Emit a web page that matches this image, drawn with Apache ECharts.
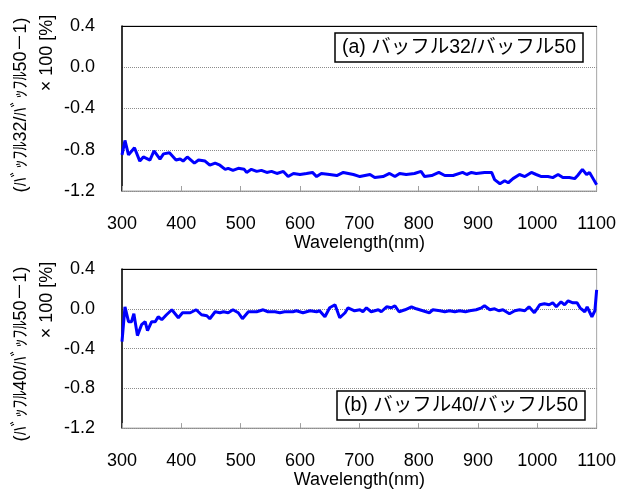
<!DOCTYPE html>
<html>
<head>
<meta charset="utf-8">
<script src="https://cdn.jsdelivr.net/npm/echarts@6/dist/echarts.min.js"></script>
<style>
html,body{margin:0;padding:0;background:#fff;}
#chart{width:619px;height:490px;}
</style>
</head>
<body>
<div id="chart"></div>
<script>
// ---- Data ----
const wavelengthA = [300,302,305,311,321,330,336,347,354,364,370,380,391,398,403,410,422,429,440,448,457,465,474,479,487,496,506,510,518,527,535,544,552,561,572,580,589,600,611,621,628,636,650,662,673,690,701,718,726,740,751,760,768,779,793,804,810,822,834,844,858,874,881,889,897,911,923,928,937,945,951,959,970,979,990,998,1007,1018,1026,1035,1043,1054,1063,1068,1076,1083,1088,1094,1100];
const ratioA = [-0.85,-0.86,-0.71,-0.85,-0.78,-0.91,-0.87,-0.90,-0.81,-0.89,-0.84,-0.83,-0.90,-0.89,-0.91,-0.87,-0.93,-0.90,-0.91,-0.95,-0.93,-0.95,-0.99,-0.98,-1.00,-0.98,-0.99,-1.02,-0.99,-1.01,-1.00,-1.02,-1.01,-1.03,-1.01,-1.06,-1.03,-1.04,-1.03,-1.02,-1.06,-1.03,-1.04,-1.05,-1.02,-1.04,-1.06,-1.04,-1.07,-1.06,-1.03,-1.06,-1.03,-1.04,-1.03,-1.01,-1.06,-1.05,-1.02,-1.05,-1.05,-1.02,-1.04,-1.02,-1.03,-1.02,-1.02,-1.09,-1.13,-1.10,-1.12,-1.08,-1.04,-1.06,-1.02,-1.04,-1.06,-1.06,-1.07,-1.04,-1.07,-1.07,-1.08,-1.05,-0.99,-1.04,-1.02,-1.08,-1.14];

const wavelengthB = [300,305,311,316,320,326,333,339,343,350,356,361,367,375,384,395,402,415,425,434,443,448,457,465,471,479,487,496,503,513,527,538,546,558,566,574,588,594,605,617,628,633,642,650,659,667,676,681,692,701,706,712,720,732,737,746,754,760,767,777,788,796,807,818,824,836,844,852,861,869,879,886,897,906,911,920,928,935,942,953,962,970,979,986,995,1004,1012,1020,1026,1032,1040,1046,1052,1060,1067,1072,1080,1084,1092,1097,1100];
const ratioB = [-0.33,0.02,-0.13,-0.13,-0.05,-0.27,-0.16,-0.13,-0.22,-0.13,-0.13,-0.08,-0.11,-0.06,-0.01,-0.09,-0.04,-0.04,-0.01,-0.06,-0.07,-0.10,-0.03,-0.04,-0.03,-0.04,-0.01,-0.04,-0.10,-0.03,-0.03,-0.01,-0.03,-0.03,-0.04,-0.03,-0.03,-0.02,-0.04,-0.02,-0.03,-0.02,-0.08,0.01,0.04,-0.09,-0.04,0.01,-0.02,-0.01,-0.03,0.01,-0.03,-0.01,-0.03,0.02,0.01,0.03,-0.03,-0.01,0.02,0.00,-0.02,-0.04,-0.01,-0.02,-0.03,-0.02,-0.03,-0.02,-0.03,-0.02,-0.01,0.01,0.03,-0.01,0.00,-0.02,-0.01,-0.05,-0.02,-0.01,-0.02,0.02,-0.04,0.04,0.05,0.04,0.06,0.02,0.07,0.04,0.08,0.06,0.06,0.01,-0.03,0.02,-0.08,-0.02,0.19];

const xTicks = [300,400,500,600,700,800,900,1000,1100];
const yTicks = [-1.2,-0.8,-0.4,0.0,0.4];
const xName = 'Wavelength(nm)';
const yTitleA = '(ﾊﾞｯﾌﾙ32/ﾊﾞｯﾌﾙ50－1)';
const yTitleB = '(ﾊﾞｯﾌﾙ40/ﾊﾞｯﾌﾙ50－1)';
const yTitle2 = '× 100 [%]';
const labelA = '(a) バッフル32/バッフル50';
const labelB = '(b) バッフル40/バッフル50';

// ---- Chart ----
const FONT = '"Liberation Sans", "Noto Sans CJK JP", sans-serif';
const chart = echarts.init(document.getElementById('chart'), null, {renderer: 'canvas'});

function pairs(xs, ys){ return xs.map((x,i)=>[x, ys[i]]); }

function xAxisBottom(gi){
  return {
    type: 'value', gridIndex: gi, position: 'bottom',
    min: xTicks[0], max: xTicks[xTicks.length-1], interval: 100,
    name: xName, nameLocation: 'middle', nameGap: 41,
    nameTextStyle: {fontFamily: FONT, fontSize: 18, color: '#000'},
    axisLine: {show: true, onZero: false, lineStyle: {color: '#8c8c8c', type: 'dotted', width: 1}},
    axisTick: {show: true, inside: true, length: 5, lineStyle: {color: '#a0a0a0'}},
    axisLabel: {fontFamily: FONT, fontSize: 18, color: '#000', margin: 24,
      formatter: v => String(v)},
    splitLine: {show: false}
  };
}
function xAxisTop(gi){
  return {
    type: 'value', gridIndex: gi, position: 'top',
    min: xTicks[0], max: xTicks[xTicks.length-1], interval: 100,
    axisLine: {show: true, onZero: false, lineStyle: {color: '#000', width: 1}},
    axisTick: {show: false}, axisLabel: {show: false}, splitLine: {show: false}
  };
}
function yAxis(gi){
  return {
    type: 'value', gridIndex: gi,
    min: yTicks[0], max: yTicks[yTicks.length-1], interval: 0.4,
    axisLine: {show: true, onZero: false, lineStyle: {color: '#000', width: 1.5}},
    axisTick: {show: false},
    axisLabel: {fontFamily: FONT, fontSize: 18, color: '#000', margin: 27,
      formatter: v => v.toFixed(1)},
    splitLine: {show: true, lineStyle: {color: '#8c8c8c', type: 'dotted', width: 1}}
  };
}

const option = {
  backgroundColor: '#fff',
  animation: false,
  grid: [
    {left: 122, right: 22, top: 26, height: 165, show: true, borderColor: '#a6a6a6', borderWidth: 1},
    {left: 122, right: 22, top: 269, height: 164, show: true, borderColor: '#a6a6a6', borderWidth: 1}
  ],
  xAxis: [xAxisBottom(0), xAxisBottom(1), xAxisTop(0), xAxisTop(1)],
  yAxis: [yAxis(0), yAxis(1)],
  series: [
    {type: 'line', xAxisIndex: 0, yAxisIndex: 0, data: pairs(wavelengthA, ratioA),
     showSymbol: false, smooth: false, lineStyle: {color: '#0000ff', width: 3}, itemStyle: {color: '#0000ff'}},
    {type: 'line', xAxisIndex: 1, yAxisIndex: 1, data: pairs(wavelengthB, ratioB),
     showSymbol: false, smooth: false, lineStyle: {color: '#0000ff', width: 3}, itemStyle: {color: '#0000ff'}}
  ],
  graphic: [
    {type: 'text', x: 21, y: 105, rotation: Math.PI/2, z: 100,
     style: {text: yTitleA, fontFamily: FONT, fontSize: 18, fill: '#000', align: 'center', verticalAlign: 'middle'}},
    {type: 'text', x: 47, y: 53, rotation: Math.PI/2, z: 100,
     style: {text: yTitle2, fontFamily: FONT, fontSize: 18, fill: '#000', align: 'center', verticalAlign: 'middle'}},
    {type: 'text', x: 21, y: 354, rotation: Math.PI/2, z: 100,
     style: {text: yTitleB, fontFamily: FONT, fontSize: 18, fill: '#000', align: 'center', verticalAlign: 'middle'}},
    {type: 'text', x: 47, y: 300, rotation: Math.PI/2, z: 100,
     style: {text: yTitle2, fontFamily: FONT, fontSize: 18, fill: '#000', align: 'center', verticalAlign: 'middle'}},
    {type: 'rect', z: 100, shape: {x: 335, y: 33, width: 248, height: 29},
     style: {fill: '#fff', stroke: '#000', lineWidth: 1.5}},
    {type: 'text', z: 101, x: 459, y: 48,
     style: {text: labelA, fontFamily: FONT, fontSize: 19.5, fill: '#000', align: 'center', verticalAlign: 'middle'}},
    {type: 'rect', z: 100, shape: {x: 337, y: 391, width: 248, height: 29},
     style: {fill: '#fff', stroke: '#000', lineWidth: 1.5}},
    {type: 'text', z: 101, x: 461, y: 406,
     style: {text: labelB, fontFamily: FONT, fontSize: 19.5, fill: '#000', align: 'center', verticalAlign: 'middle'}}
  ]
};
chart.setOption(option);
</script>
</body>
</html>
